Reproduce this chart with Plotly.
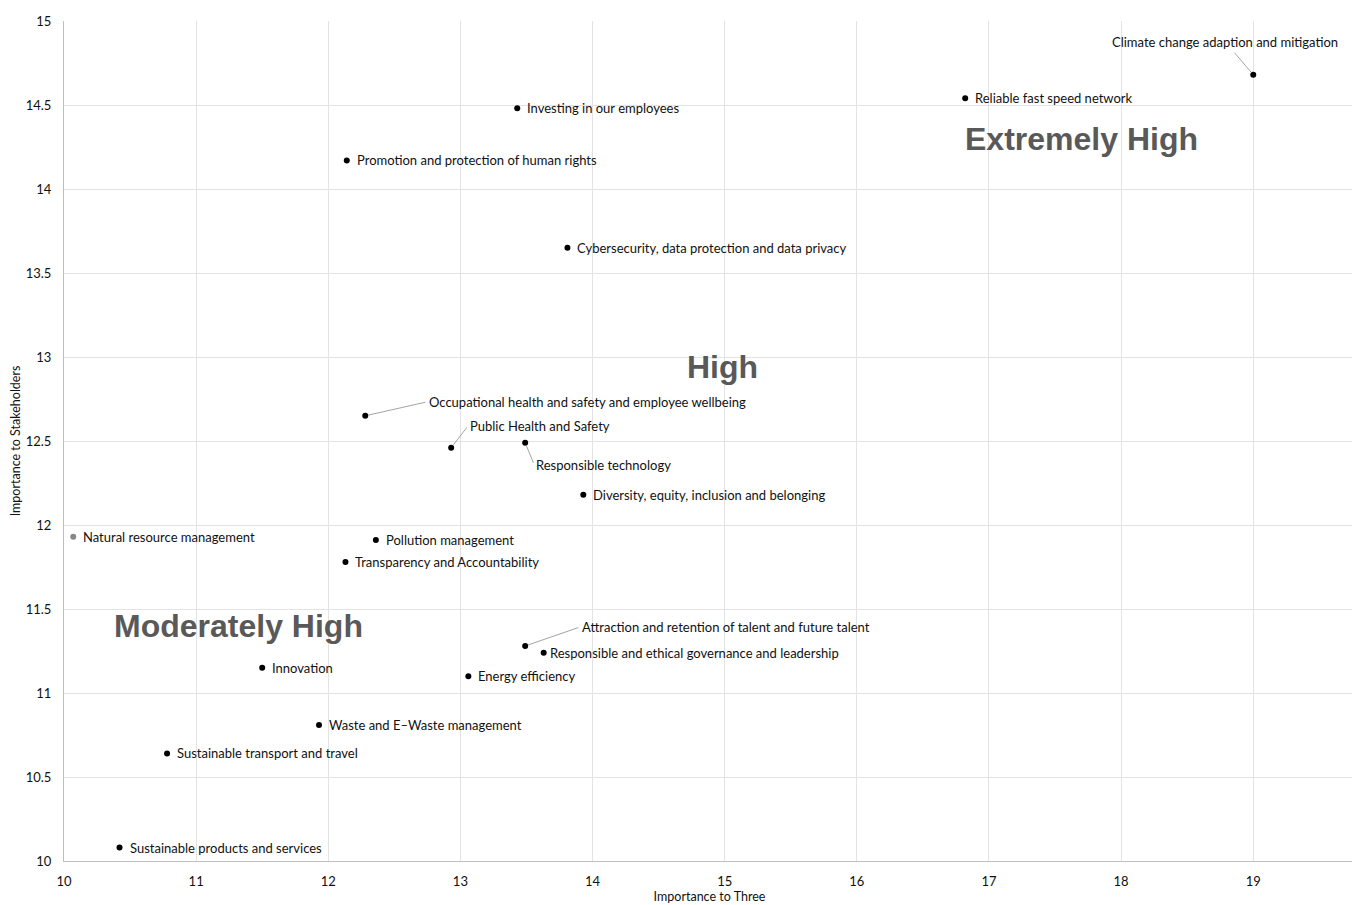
import plotly.graph_objects as go

# ---- data ----
topics = [
    "Climate change adaption and mitigation",
    "Reliable fast speed network",
    "Investing in our employees",
    "Promotion and protection of human rights",
    "Cybersecurity, data protection and data privacy",
    "Occupational health and safety and employee wellbeing",
    "Public Health and Safety",
    "Responsible technology",
    "Diversity, equity, inclusion and belonging",
    "Natural resource management",
    "Pollution management",
    "Transparency and Accountability",
    "Attraction and retention of talent and future talent",
    "Responsible and ethical governance and leadership",
    "Energy efficiency",
    "Innovation",
    "Waste and E\u2013Waste management",
    "Sustainable transport and travel",
    "Sustainable products and services",
]
importance_to_three = [19.00, 16.82, 13.43, 12.14, 13.81, 12.28, 12.93, 13.49, 13.93,
                       10.07, 12.36, 12.13, 13.49, 13.63, 13.06, 11.50, 11.93, 10.78, 10.42]
importance_to_stakeholders = [14.68, 14.54, 14.48, 14.17, 13.65, 12.65, 12.46, 12.49, 12.18,
                              11.93, 11.91, 11.78, 11.28, 11.24, 11.10, 11.15, 10.81, 10.64, 10.08]

zone_labels = ["Extremely High", "High", "Moderately High"]
zone_x = [17.70, 14.98, 11.32]
zone_y = [14.30, 12.94, 11.40]

x_ticks = list(range(10, 20))
y_ticks = [10, 10.5, 11, 11.5, 12, 12.5, 13, 13.5, 14, 14.5, 15]

# ---- styling (label placement in pixels) ----
leader_offsets = {
    "Climate change adaption and mitigation": (-28, -33, "center"),
    "Occupational health and safety and employee wellbeing": (62, -14, "left"),
    "Public Health and Safety": (17, -22, "left"),
    "Responsible technology": (9, 22, "left"),
    "Attraction and retention of talent and future talent": (55, -19, "left"),
}
label_font = dict(family="Lato, 'Open Sans', sans-serif", size=13, color="#111111")

marker_colors = ["#888888" if t == "Natural resource management" else "#000000" for t in topics]

fig = go.Figure()
fig.add_trace(go.Scatter(
    x=importance_to_three, y=importance_to_stakeholders,
    mode="markers",
    marker=dict(size=6, color=marker_colors),
    hovertext=topics, hoverinfo="text+x+y",
    showlegend=False,
))

annotations = []
for t, xv, yv in zip(topics, importance_to_three, importance_to_stakeholders):
    if t in leader_offsets:
        ax, ay, anchor = leader_offsets[t]
        annotations.append(dict(
            x=xv, y=yv, xref="x", yref="y", text=t, showarrow=True,
            arrowhead=0, arrowwidth=0.8, arrowcolor="#8c8c8c",
            ax=ax, ay=ay, xanchor=anchor, yanchor="middle",
            standoff=3, startstandoff=2, font=label_font,
        ))
    else:
        shift = 4 if t == "Responsible and ethical governance and leadership" else 8
        annotations.append(dict(
            x=xv, y=yv, xref="x", yref="y", text=t, showarrow=False,
            xanchor="left", yanchor="middle", xshift=shift, font=label_font,
        ))

for lab, xv, yv in zip(zone_labels, zone_x, zone_y):
    annotations.append(dict(
        x=xv, y=yv, xref="x", yref="y", text="<b>" + lab + "</b>", showarrow=False,
        xanchor="center", yanchor="middle",
        font=dict(family="Liberation Sans, Arial, sans-serif", size=32, color="#595959"),
    ))

fig.update_layout(
    width=1352, height=897,
    margin=dict(l=55, r=5, t=11, b=44),
    plot_bgcolor="white", paper_bgcolor="white",
    annotations=annotations,
    font=dict(family="Lato, 'Open Sans', sans-serif", size=12, color="#111111"),
)
fig.update_xaxes(
    range=[10, 19.77], tickvals=x_ticks, ticktext=[str(v) for v in x_ticks],
    showgrid=True, gridcolor="#e3e3e3", gridwidth=1,
    showline=True, linecolor="#bfbfbf", linewidth=1,
    zeroline=False, ticks="", tickfont=dict(size=13), ticklabelstandoff=8,
    title=dict(text="Importance to Three", font=dict(size=12.5), standoff=3),
)
fig.update_yaxes(
    range=[10, 15], tickvals=y_ticks, ticktext=[f"{v:g}" for v in y_ticks],
    showgrid=True, gridcolor="#e3e3e3", gridwidth=1,
    showline=True, linecolor="#bfbfbf", linewidth=1,
    zeroline=False, ticks="", tickfont=dict(size=13), ticklabelstandoff=9,
    title=dict(text="Importance to Stakeholders", font=dict(size=12.5), standoff=4),
)

fig.write_html("out.html")
